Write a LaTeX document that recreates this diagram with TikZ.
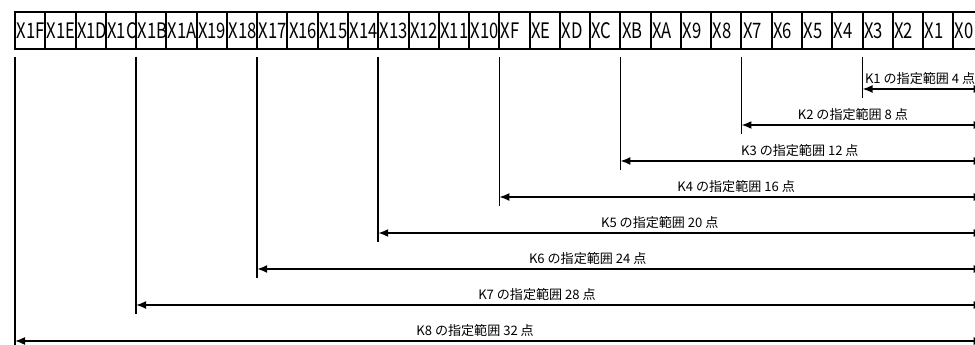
\documentclass[tikz,border=0pt]{standalone}
\usepackage{fontspec}
\setmainfont{Noto Sans CJK JP}
\newfontfamily\cellfont{Noto Sans CJK JP}[FakeStretch=0.78]
\usetikzlibrary{arrows.meta}

\tikzset{
    bitcell/.style={draw, line width=1.5pt, inner ysep=0pt, inner xsep=1.2pt, outer sep=0pt,
        text width=20.3pt, align=left,
        minimum width=22.7pt, minimum height=27.75pt, font=\cellfont\fontsize{16}{16}\selectfont},
    tickline/.style={line width=1.2pt},
    spanarrow/.style={line width=1.2pt, {Latex[length=7.5pt,width=6pt]}-{Latex[length=7.5pt,width=6pt]}},
    spanlabel/.style={above, inner sep=2.5pt, font=\fontsize{9.8}{9.8}\selectfont}
}

\begin{document}
\begin{tikzpicture}[x=0.75pt, y=0.75pt]
    \useasboundingbox (0, 0) rectangle (975, 345);

    % Draw the input cells X1F ... X0
    \node[bitcell] (x1f) at (30.14, 314.5) {X1F};
    \node[bitcell] (x1e) at (60.41, 314.5) {X1E};
    \node[bitcell] (x1d) at (90.68, 314.5) {X1D};
    \node[bitcell] (x1c) at (120.95, 314.5) {X1C};
    \node[bitcell] (x1b) at (151.22, 314.5) {X1B};
    \node[bitcell] (x1a) at (181.49, 314.5) {X1A};
    \node[bitcell] (x19) at (211.76, 314.5) {X19};
    \node[bitcell] (x18) at (242.03, 314.5) {X18};
    \node[bitcell] (x17) at (272.30, 314.5) {X17};
    \node[bitcell] (x16) at (302.57, 314.5) {X16};
    \node[bitcell] (x15) at (332.84, 314.5) {X15};
    \node[bitcell] (x14) at (363.11, 314.5) {X14};
    \node[bitcell] (x13) at (393.38, 314.5) {X13};
    \node[bitcell] (x12) at (423.65, 314.5) {X12};
    \node[bitcell] (x11) at (453.92, 314.5) {X11};
    \node[bitcell] (x10) at (484.19, 314.5) {X10};
    \node[bitcell] (xf) at (514.46, 314.5) {XF};
    \node[bitcell] (xe) at (544.73, 314.5) {XE};
    \node[bitcell] (xd) at (575.00, 314.5) {XD};
    \node[bitcell] (xc) at (605.27, 314.5) {XC};
    \node[bitcell] (xb) at (635.54, 314.5) {XB};
    \node[bitcell] (xa) at (665.81, 314.5) {XA};
    \node[bitcell] (x9) at (696.08, 314.5) {X9};
    \node[bitcell] (x8) at (726.35, 314.5) {X8};
    \node[bitcell] (x7) at (756.62, 314.5) {X7};
    \node[bitcell] (x6) at (786.89, 314.5) {X6};
    \node[bitcell] (x5) at (817.16, 314.5) {X5};
    \node[bitcell] (x4) at (847.43, 314.5) {X4};
    \node[bitcell] (x3) at (877.70, 314.5) {X3};
    \node[bitcell] (x2) at (907.97, 314.5) {X2};
    \node[bitcell] (x1) at (938.24, 314.5) {X1};
    \node[bitcell] (x0) at (968.51, 314.5) {X0};

    % Range ends
    \coordinate (k1l) at (862.56, 256);  \coordinate (k1r) at (983.64, 256);
    \coordinate (k2l) at (741.48, 220);  \coordinate (k2r) at (983.64, 220);
    \coordinate (k3l) at (620.40, 184);  \coordinate (k3r) at (983.64, 184);
    \coordinate (k4l) at (499.32, 148);  \coordinate (k4r) at (983.64, 148);
    \coordinate (k5l) at (378.24, 112);  \coordinate (k5r) at (983.64, 112);
    \coordinate (k6l) at (257.16, 76);   \coordinate (k6r) at (983.64, 76);
    \coordinate (k7l) at (136.08, 40);   \coordinate (k7r) at (983.64, 40);
    \coordinate (k8l) at (15.00, 4);     \coordinate (k8r) at (983.64, 4);

    \draw[tickline] (862.56, 288) -- (862.56, 247);
    \draw[tickline] (741.48, 288) -- (741.48, 211);
    \draw[tickline] (620.40, 288) -- (620.40, 175);
    \draw[tickline] (499.32, 288) -- (499.32, 139);
    \draw[tickline] (378.24, 288) -- (378.24, 103);
    \draw[tickline] (257.16, 288) -- (257.16, 67);
    \draw[tickline] (136.08, 288) -- (136.08, 31);
    \draw[tickline] (15.00, 288) -- (15.00, -5);

    \draw[spanarrow] (k1l) -- node[spanlabel, pos=0.475] {K1 の指定範囲 4 点} (k1r);
    \draw[spanarrow] (k2l) -- node[spanlabel, pos=0.46] {K2 の指定範囲 8 点} (k2r);
    \draw[spanarrow] (k3l) -- node[spanlabel, pos=0.494] {K3 の指定範囲 12 点} (k3r);
    \draw[spanarrow] (k4l) -- node[spanlabel, pos=0.489] {K4 の指定範囲 16 点} (k4r);
    \draw[spanarrow] (k5l) -- node[spanlabel, pos=0.465] {K5 の指定範囲 20 点} (k5r);
    \draw[spanarrow] (k6l) -- node[spanlabel, pos=0.455] {K6 の指定範囲 24 点} (k6r);
    \draw[spanarrow] (k7l) -- node[spanlabel, pos=0.473] {K7 の指定範囲 28 点} (k7r);
    \draw[spanarrow] (k8l) -- node[spanlabel, pos=0.475] {K8 の指定範囲 32 点} (k8r);
\end{tikzpicture}
\end{document}
